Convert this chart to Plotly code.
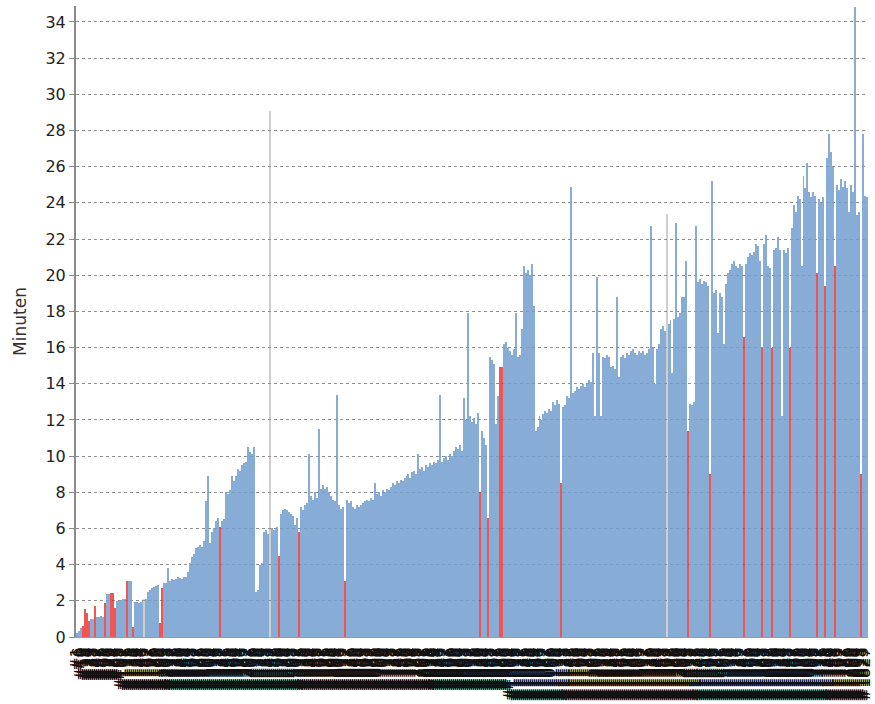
import plotly.graph_objects as go

# Build durations in minutes (one entry per build shown, oldest first)
durations = [
    0.2, 0.35, 0.5, 0.6, 1.55, 1.3, 0.9, 1.0, 1.0, 1.7,
    1.1, 1.1, 1.15, 1.1, 1.9, 2.4, 2.4, 2.45, 2.45, 1.6,
    2.0, 2.0, 2.05, 2.1, 2.1, 3.1, 3.1, 3.1, 0.55, 1.95,
    1.95, 1.9, 1.95, 2.0, 2.1, 2.1, 2.5, 2.6, 2.7, 2.75,
    2.8, 2.9, 0.8, 2.7, 3.0, 3.0, 3.8, 3.1, 3.2, 3.15,
    3.2, 3.3, 3.25, 3.2, 3.3, 3.3, 3.6, 4.1, 4.4, 4.6,
    4.9, 5.0, 5.1, 5.0, 5.3, 7.5, 8.9, 5.2, 5.8, 6.0,
    6.4, 6.6, 6.1, 6.4, 6.5, 8.0, 7.9, 8.1, 8.9, 8.6,
    8.9, 9.3, 9.2, 9.5, 9.6, 9.7, 10.5, 10.2, 10.1, 10.5,
    2.5, 2.6, 4.0, 4.1, 5.8, 5.9, 5.7, 29.1, 6.0, 5.9,
    6.0, 6.1, 4.5, 6.8, 7.0, 7.1, 7.0, 6.9, 6.8, 6.7,
    6.2, 6.6, 5.8, 7.2, 7.0, 7.3, 7.4, 10.1, 7.8, 7.6,
    8.0, 7.7, 11.5, 8.2, 8.4, 8.2, 8.3, 8.0, 7.8, 7.6,
    7.5, 13.4, 7.3, 7.1, 7.2, 3.1, 7.6, 7.4, 7.5, 7.2,
    7.1, 7.3, 7.2, 7.3, 7.4, 7.5, 7.6, 7.5, 7.7, 7.6,
    8.5, 7.9, 8.0, 7.8, 8.1, 8.0, 8.2, 8.1, 8.3, 8.5,
    8.4, 8.6, 8.5, 8.7, 8.6, 8.8, 8.9, 9.0, 8.8, 9.1,
    9.2, 9.0, 10.1, 9.3, 9.4, 9.2, 9.5, 9.4, 9.6, 9.5,
    9.7, 9.6, 9.8, 13.4, 9.7, 9.9, 10.0, 9.8, 10.1, 10.0,
    10.3, 10.5, 10.4, 10.6, 10.3, 13.2, 12.0, 17.9, 12.2, 11.9,
    12.1, 11.8, 12.4, 8.0, 11.4, 11.0, 10.6, 6.6, 15.5, 15.3,
    15.1, 11.8, 13.3, 14.9, 14.9, 16.2, 16.3, 16.0, 15.8, 15.6,
    15.9, 17.9, 15.5, 15.6, 17.0, 20.5, 20.1, 20.3, 20.0, 20.6,
    18.3, 11.4, 11.6, 12.2, 12.0, 12.3, 12.5, 12.4, 12.6, 12.5,
    13.0, 12.8, 13.1, 12.9, 8.5, 12.7, 12.8, 13.3, 13.2, 24.9,
    13.5, 13.6, 13.8, 13.7, 13.9, 14.0, 13.8, 14.0, 14.2, 14.1,
    15.7, 12.2, 19.9, 15.7, 12.2, 15.5, 15.4, 15.6, 15.5, 14.9,
    15.0, 14.8, 18.8, 14.4, 15.5, 15.6, 15.4, 15.7, 15.6, 15.8,
    15.9, 15.7, 15.6, 15.8, 15.7, 15.8, 15.6, 15.7, 15.9, 22.7,
    16.0, 14.0, 15.9, 16.2, 17.0, 17.2, 16.9, 23.4, 17.3, 17.5,
    14.6, 17.6, 22.9, 17.7, 17.9, 18.8, 18.8, 20.8, 11.4, 12.9,
    12.8, 13.0, 22.7, 19.6, 19.8, 19.5, 19.7, 19.6, 19.4, 9.0,
    25.2, 19.0, 19.2, 16.8, 19.0, 18.8, 16.2, 19.5, 20.1, 20.3,
    20.6, 20.8, 20.5, 20.4, 20.6, 20.5, 16.6, 20.6, 21.0, 21.2,
    21.1, 21.3, 21.7, 21.6, 20.8, 16.0, 21.7, 22.2, 20.5, 20.4,
    16.0, 21.4, 21.5, 22.1, 21.4, 12.2, 21.4, 21.2, 21.5, 16.0,
    22.6, 23.9, 23.5, 24.4, 24.2, 20.5, 25.5, 24.8, 26.2, 24.6,
    24.3, 24.6, 24.4, 20.1, 24.2, 24.0, 24.3, 19.4, 26.5, 27.8,
    26.8, 26.0, 20.5, 25.0, 24.7, 25.3, 24.9, 25.2, 24.8, 23.5,
    25.0, 24.6, 34.8, 23.3, 23.5, 9.0, 27.8, 24.4, 24.3,
]

# Positions (in the list above) of failed and aborted builds
failed_pos = [3, 4, 5, 6, 9, 14, 17, 18, 19, 25, 28, 42, 43, 72, 102, 112,
              135, 203, 207, 213, 214, 244, 308, 319, 336, 345, 350, 359,
              373, 377, 382, 395]
aborted_pos = [34, 97, 297]

# Build numbers (categories) and their tick labels
build_numbers = [1 + round(i * 4.6) for i in range(len(durations))]
tick_labels = ["#%d" % b for b in build_numbers]

idx = list(range(len(durations)))
fset, aset = set(failed_pos), set(aborted_pos)
success_y = [None if (i in fset or i in aset) else v for i, v in zip(idx, durations)]
failed_y = [v if i in fset else None for i, v in zip(idx, durations)]
aborted_y = [v if i in aset else None for i, v in zip(idx, durations)]

fig = go.Figure()
fig.add_trace(go.Bar(x=idx, y=success_y, marker=dict(color="rgba(114,159,207,0.85)", line=dict(width=0)),
                     width=1, name="Erfolgreich", hoverinfo="skip"))
fig.add_trace(go.Bar(x=idx, y=failed_y, marker=dict(color="rgba(239,41,41,0.8)", line=dict(width=0)),
                     width=1, name="Fehlgeschlagen", hoverinfo="skip"))
fig.add_trace(go.Bar(x=idx, y=aborted_y, marker=dict(color="rgba(136,138,133,0.4)", line=dict(width=0)),
                     width=1, name="Abgebrochen", hoverinfo="skip"))

fig.update_layout(
    width=875, height=704,
    margin=dict(l=76, r=7, t=6, b=67),
    paper_bgcolor="white", plot_bgcolor="white",
    barmode="overlay", bargap=0,
    showlegend=False,
    hovermode=False,
    font=dict(family="DejaVu Sans", color="#222"),
)
fig.update_xaxes(
    automargin=False,
    range=[-0.5, len(durations) - 0.5],
    tickmode="array", tickvals=idx, ticktext=tick_labels,
    tickangle=-90, tickfont=dict(size=16, color="#111"),
    showline=True, linecolor="#9a9a9a", linewidth=1,
    ticks="outside", ticklen=3, tickcolor="rgba(0,0,0,0)",
    showgrid=False, zeroline=False,
)
fig.update_yaxes(
    automargin=False,
    range=[0, 34.88], dtick=2, tick0=0,
    tickfont=dict(size=16, color="#222"),
    showline=True, linecolor="#8a8a8a", linewidth=2,
    ticks="outside", ticklen=5, tickcolor="#8a8a8a",
    showgrid=True, gridcolor="#8f8f8f", gridwidth=1, griddash="3px,3px",
    zeroline=False,
    title=dict(text="Minuten", font=dict(size=17, color="#333"), standoff=14),
)

fig.write_html("out.html", config={"displayModeBar": False},
               post_script="document.body.style.margin='0';")
